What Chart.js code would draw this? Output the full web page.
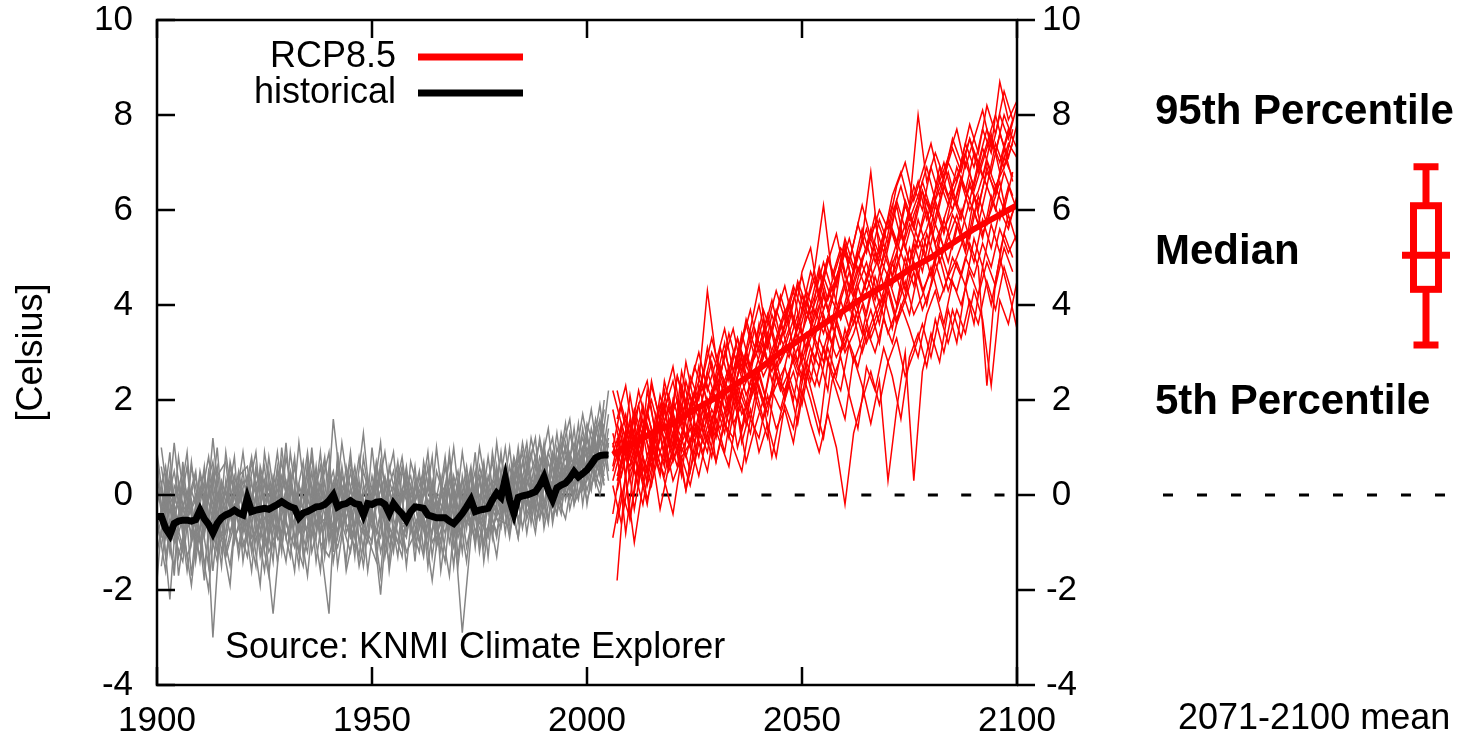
<!DOCTYPE html>
<html>
<head>
<meta charset="utf-8">
<script src="https://cdn.jsdelivr.net/npm/chart.js@4.4.1/dist/chart.umd.min.js"></script>
<style>
html, body { margin: 0; padding: 0; background: #fff; }
#wrap { width: 1457px; height: 739px; }
</style>
</head>
<body>
<div id="wrap"><canvas id="grafica" width="1457" height="739"></canvas></div>
<script>
// Media del ensemble histórico, un valor por año 1900-2005
const histMean = [
  -0.45, -0.45, -0.7, -0.84, -0.6, -0.55, -0.53, -0.53, -0.55, -0.52,
  -0.32, -0.5, -0.62, -0.8, -0.6, -0.48, -0.42, -0.38, -0.32, -0.38,
  -0.42, -0.07, -0.35, -0.32, -0.3, -0.28, -0.3, -0.25, -0.2, -0.14,
  -0.2, -0.25, -0.28, -0.48, -0.38, -0.35, -0.3, -0.25, -0.24, -0.2,
  -0.12, 0.0, -0.25, -0.2, -0.18, -0.12, -0.18, -0.2, -0.42, -0.18,
  -0.2, -0.15, -0.14, -0.2, -0.39, -0.18, -0.3, -0.4, -0.53, -0.35,
  -0.25, -0.26, -0.28, -0.42, -0.45, -0.48, -0.48, -0.48, -0.55, -0.6,
  -0.5, -0.39, -0.25, -0.1, -0.35, -0.32, -0.3, -0.28, -0.1, 0.04,
  -0.05, 0.35, -0.1, -0.39, -0.05, -0.02, 0.0, 0.03, 0.07, 0.2,
  0.38, 0.1, -0.1, 0.15, 0.21, 0.25, 0.35, 0.49, 0.38, 0.45,
  0.53, 0.65, 0.78, 0.83, 0.84, 0.84
];

// Media del ensemble RCP8.5
const rcpMeanYears = [2006, 2010, 2015, 2020, 2025, 2030, 2035, 2040, 2045, 2050,
  2055, 2060, 2065, 2070, 2075, 2080, 2085, 2090, 2095, 2100];
const rcpMean = [0.85, 1.05, 1.3, 1.5, 1.8, 2.05, 2.35, 2.65, 3.0, 3.3,
  3.6, 3.9, 4.2, 4.45, 4.75, 5.0, 5.3, 5.6, 5.85, 6.1];

// Miembros históricos, cada 2 años: pares 1900-2004
const histMembersEven = [
  [-0.2, 0.6, -0.9, -1.4, 0.1, -0.5, 0.3, -1.1, -0.8, 0.4,
   -0.3, -1.6, 0.2, -0.6, 0.5, -0.9, -0.2, 0.7, -1.2, -0.4,
   0.1, -0.8, 0.6, -0.3, -1.5, -0.1, 0.4, -0.7, -1.0, 0.3,
   -0.5, -1.3, 0.2, -0.6, 0.1, -0.9, -0.3, 0.5, -1.1, -0.2,
   0.4, -0.6, 0.8, -0.4, 0.2, 1.0, -0.5, 0.6, 0.1, 1.2,
   0.4, 1.6, 0.7],
  [-1.2, -0.3, 0.5, -0.7, -1.9, -0.2, 0.8, -0.6, -1.0, 0.2,
   -0.8, 0.3, -1.3, -0.4, 0.9, -0.6, -1.1, 0.1, -0.3, 0.6,
   -0.9, -0.2, -1.4, 0.4, -0.5, 0.2, -1.2, -0.4, 0.7, -0.8,
   -0.1, 0.5, -1.0, -0.6, -1.7, 0.3, -0.4, -0.9, 0.4, -0.3,
   -0.7, 0.6, -0.2, 0.9, -0.6, 0.3, -0.1, 1.1, -0.3, 0.5,
   1.3, 0.2, 1.0],
  [0.4, -0.8, -1.5, 0.2, -0.4, -1.0, -0.1, 0.6, -1.3, -0.6,
   0.3, -0.2, -0.9, 0.8, -0.5, -1.4, 0.1, -0.7, 0.5, -1.0,
   -2.5, 0.9, -0.6, -1.1, 0.2, -0.4, -2.1, 0.1, -0.5, -0.9,
   0.3, -0.7, -0.2, -1.2, 0.4, -0.5, 0.6, -0.8, -0.1, 0.7,
   -0.4, 0.1, -0.9, 0.5, 0.2, -0.3, 0.8, 0.0, 0.9, 0.3,
   0.6, 1.1, 0.2],
  [-0.7, 0.1, -0.4, -1.1, 0.7, -0.9, -2.0, 0.0, -0.5, -0.2,
   -1.1, -0.4, 0.4, -0.8, -0.1, 0.3, -0.9, -1.5, 0.2, -0.6,
   -0.4, 0.5, -0.8, -0.2, 1.3, -0.6, -0.9, 0.3, -0.3, -1.2,
   -0.8, 0.1, -0.5, 0.4, -1.0, -0.2, -1.4, 0.2, -0.6, 0.3,
   0.1, -0.9, 0.4, -0.2, 0.7, -0.5, 0.6, -0.1, 0.4, 0.9,
   0.1, 0.8, 1.5],
  [0.9, -0.5, -1.0, -0.3, -0.8, 0.4, -0.6, -1.4, 0.3, -0.9,
   -0.5, 0.7, -0.3, -1.2, -0.7, 0.1, -0.4, -0.2, 0.8, -1.0,
   -1.3, -0.5, 0.2, -0.9, -0.1, -0.7, 0.5, -1.6, -0.2, 0.1,
   -1.1, -0.3, -0.8, 0.0, -0.4, -1.5, 0.1, -0.5, 0.2, -0.7,
   -0.2, 0.3, -0.5, 0.1, -0.8, 0.6, 0.2, -0.4, 1.3, 0.5,
   -0.1, 0.5, 0.9],
  [-0.5, -1.6, 0.2, -0.2, -0.6, -1.3, 0.5, -0.4, 0.1, -0.7,
   0.5, -0.9, -0.6, 0.2, -1.4, -0.3, 0.6, -0.8, -0.5, 0.2,
   -0.6, -1.1, -0.3, 0.6, -0.7, 0.4, -0.5, -0.2, -1.3, 0.5,
   -0.2, -0.5, -1.8, -0.3, 0.3, -0.6, -0.2, -1.0, 0.5, -0.1,
   -0.5, 0.2, 0.6, -0.8, 0.4, -0.2, 0.9, 0.3, -0.1, 0.7,
   1.0, 0.4, 2.0],
  [0.8, -1.3, -0.2, 0.5, -1.7, 0.2, -0.7, 1.0, -1.2, -0.4,
   0.9, -0.6, -1.9, 0.5, -0.8, 1.1, -1.0, 0.3, -0.4, -1.6,
   0.6, -0.9, 0.1, -1.3, 0.8, -0.4, -1.7, 0.6, -0.2, 0.4,
   -1.4, 0.7, -0.3, -1.0, 0.9, -0.8, 0.4, -1.1, 0.6, -0.5,
   0.9, -0.8, 0.2, 1.1, -0.4, 0.8, -0.2, 1.3, 0.5, -0.1,
   1.2, 0.6, 1.8],
  [-1.8, 0.4, -0.6, -1.2, 0.6, -0.3, -1.5, 0.4, 0.7, -1.0,
   -0.2, 0.8, -0.7, -1.7, 0.3, -0.4, 0.8, -1.3, -0.6, 0.9,
   -1.0, 0.7, -0.5, 0.2, -1.2, 1.0, -0.6, -1.4, 0.5, -0.7,
   0.6, -1.2, 0.3, -0.5, 0.8, -1.3, 0.2, -0.4, -1.0, 0.9,
   -0.3, 1.0, -0.6, 0.4, 1.2, -0.7, 0.3, 0.9, 1.6, 0.0,
   0.3, 1.4, 0.6],
  [0.2, -0.9, 1.1, -0.6, -0.1, -1.4, 0.1, -0.8, -0.3, 0.8,
   -1.4, -0.1, 0.5, -1.0, 0.6, -0.5, -1.6, 0.4, -0.9, 0.1,
   0.9, -1.5, -0.2, 0.3, -0.6, -1.0, 0.7, -0.3, 0.2, -1.5,
   0.2, -0.4, 0.8, -1.6, -0.2, 0.5, -0.7, 0.9, -1.4, 0.0,
   0.8, -0.1, -0.9, 0.7, -0.2, 1.1, -0.6, 0.5, 0.2, 1.5,
   -0.2, 1.0, 0.4],
  [-0.9, -0.1, -1.7, 0.7, -1.0, 0.5, -0.4, -1.2, 0.9, -0.5,
   0.1, -1.2, 0.6, -0.2, -0.9, 0.8, -0.3, -1.0, 1.0, -0.8,
   -0.3, 0.3, -1.6, -0.7, 0.5, -0.2, 1.1, -1.1, -0.5, 0.6,
   -0.9, 0.4, -1.3, 0.1, -0.6, 0.3, -1.1, -0.2, 0.7, -0.9,
   0.5, -0.4, 1.0, -0.5, 0.1, 0.6, 1.2, -0.3, 0.8, 0.4,
   1.5, 0.9, 0.3]
];

// Miembros históricos, cada 2 años: impares 1901-2005
const histMembersOdd = [
  [0.1, -1.0, -0.4, 0.6, -1.2, -0.2, -0.8, 0.3, -0.3, -1.1,
   0.2, -0.4, -1.0, 0.4, -0.2, -0.9, 1.1, -0.5, -0.1, -0.7,
   0.3, -0.3, -0.9, -0.4, 0.4, -1.1, -0.2, 0.2, -0.6, -0.6,
   0.4, -0.2, -0.7, 0.6, -0.5, -2.9, -0.9, 0.3, -0.4, 0.5,
   -0.3, 0.8, 0.1, -0.4, 0.5, 1.4, -0.2, 0.6, 0.2, 1.0,
   0.5, 1.2, 0.8],
  [-0.9, 0.5, -1.3, -0.5, 0.0, -0.9, 1.2, -0.6, -1.5, 0.1,
   -0.7, -0.1, 0.6, -1.1, -0.4, 0.3, -0.6, -1.2, 0.4, -0.2,
   -0.8, 0.2, -0.1, -1.5, -0.6, 0.7, -0.4, -0.9, 0.1, -0.3,
   -1.0, 0.2, -0.3, -0.8, 0.1, -0.6, 0.4, -1.2, 0.0, -0.4,
   0.6, -0.3, 0.2, 0.9, -0.5, 0.1, 0.5, 1.0, -0.2, 0.3,
   0.9, 1.6, 0.3],
  [-0.3, -2.2, 0.3, -0.7, -0.4, 0.5, -3.0, -0.2, 0.6, -0.6,
   -1.3, 0.0, -0.5, -0.2, 0.7, -0.7, -0.3, 0.5, -1.4, -0.1,
   0.5, -0.6, -1.2, 0.1, -0.4, -0.1, 0.9, -0.5, -1.1, 0.2,
   -0.6, 0.6, -1.1, -0.4, -0.2, 0.3, -0.8, 0.0, -0.3, -1.3,
   0.2, -0.4, 0.7, 0.0, 0.3, -0.6, 1.0, 0.4, 0.7, 0.1,
   1.4, 0.6, 0.9],
  [0.6, -0.6, -0.1, -1.6, -0.3, 0.2, -0.5, -0.9, 0.4, -0.4,
   -0.2, -1.0, 0.3, -0.6, -1.1, 0.1, -0.4, 0.9, -0.6, 0.0,
   -1.0, 0.4, -0.3, 0.0, -0.9, -1.4, 0.3, -0.2, 0.6, -0.8,
   -0.4, -1.1, 0.5, -0.1, -0.7, 0.9, -0.4, -0.6, 0.8, -0.5,
   -0.6, 0.4, -0.1, 0.5, 1.1, -0.1, 0.3, 0.8, 0.0, 1.4,
   0.2, 0.7, 2.2],
  [-1.5, 0.0, -0.6, 0.1, -1.0, -0.4, 0.4, -1.2, -0.3, 0.3,
   -0.9, 0.6, -0.7, -2.5, -0.5, -1.3, 0.2, -0.3, -0.9, 0.7,
   -0.2, -0.7, 0.5, -0.6, -1.0, 0.3, -0.6, -1.1, 0.0, 0.4,
   -0.7, -0.1, -0.6, -1.4, 0.4, -0.3, 0.1, -0.5, -0.9, 0.2,
   -0.1, 0.5, -0.7, 0.3, -0.3, 0.7, 0.0, -0.5, 0.6, 1.2,
   0.6, 0.0, 1.1],
  [-0.4, 0.3, -0.8, -0.2, 0.5, -1.5, -0.3, 0.0, -0.8, -0.1,
   0.4, -0.5, -1.6, 0.1, -0.3, 0.5, -0.8, -0.4, 0.2, -1.1,
   1.6, 0.0, -0.4, 0.8, -0.3, -0.8, -0.1, 0.5, -0.7, -0.4,
   0.1, -0.6, -0.2, 0.2, -1.1, -0.4, -0.7, 0.6, -0.2, -0.8,
   0.3, -0.5, 0.4, -0.3, 0.8, 0.3, -0.4, 0.5, 1.1, 0.2,
   0.8, 1.9, 0.5],
  [-0.6, 0.9, -1.7, -0.3, 0.4, -0.8, -0.1, -1.5, 0.7, -0.2,
   -1.0, 0.5, -0.2, -1.4, 1.0, -0.6, 0.2, -0.9, 0.6, -1.3,
   0.2, -0.5, 0.9, -1.0, -0.4, 0.5, -1.3, -0.1, 0.8, -0.6,
   -1.2, 0.3, -0.5, 0.8, -0.9, -0.3, 0.6, -1.0, 0.4, -0.2,
   1.0, -0.5, 0.3, -0.1, 1.2, 0.2, -0.4, 1.1, 0.4, 0.9,
   0.1, 1.5, 1.0],
  [1.0, -0.4, 0.2, -1.3, -0.7, 0.6, -1.6, 0.2, -0.5, 0.5,
   -0.6, -1.5, 0.9, -0.3, -0.8, 0.4, -1.2, 0.1, -0.2, 0.8,
   -1.2, 0.6, -0.8, 0.3, -1.6, -0.2, 0.4, -0.7, -1.3, 0.7,
   0.0, -0.9, 1.0, -0.6, 0.2, -1.2, 0.5, -0.4, -0.8, 1.1,
   -0.4, 0.2, 0.9, -0.6, 0.6, 0.0, 1.3, -0.1, 0.6, 1.7,
   0.7, 0.2, 1.4],
  [-1.1, 0.2, -0.3, 0.9, -1.4, 0.0, 0.7, -0.9, -1.9, 0.4,
   0.6, -0.8, -0.3, 0.3, -1.2, 0.9, -0.5, -1.7, 0.2, -0.4,
   -0.7, 1.1, -0.2, -1.3, 0.3, -0.8, 0.1, 0.9, -1.0, -0.3,
   0.5, -1.5, 0.0, -0.4, 1.0, -0.7, -0.1, 0.4, -1.3, 0.6,
   -0.8, 0.7, -0.2, 1.2, 0.3, -0.5, 0.8, 0.1, 1.4, -0.2,
   1.1, 0.4, 1.7],
  [0.3, -1.2, 0.8, -0.5, -0.1, -1.8, 0.5, -0.4, 0.2, -1.3,
   0.0, 0.9, -1.1, -0.6, 0.4, -0.3, -1.5, 0.7, -0.7, 0.3,
   -1.4, -0.2, 0.7, -0.5, -0.9, 0.6, -0.3, -1.2, 0.5, 0.0,
   -0.3, 0.9, -1.0, 0.2, -1.5, 0.4, -0.6, 1.0, -0.1, -0.9,
   0.4, -0.2, 1.1, 0.0, -0.5, 0.9, 0.3, 1.5, -0.2, 0.8,
   1.8, 0.5, 1.2]
];

// Miembros RCP8.5, cada 2 años: pares 2006-2100
const rcpMembersEven = [
  [1.3, 0.6, 2.1, 1.0, 1.8, 0.9, 2.4, 1.6, 1.2, 2.5,
   2.0, 3.1, 2.2, 2.9, 3.5, 2.6, 3.3, 4.0, 3.1, 3.8,
   4.4, 3.6, 4.7, 5.2, 4.1, 4.9, 5.5, 4.6, 5.3, 6.1,
   5.4, 6.0, 5.6, 6.5, 7.0, 6.2, 6.8, 7.4, 6.6, 7.1,
   7.7, 6.9, 7.5, 8.1, 7.3, 8.7, 7.9, 8.3],
  [0.2, -0.6, 0.5, 0.9, -0.1, 0.6, 1.2, 0.3, 0.8, 1.1,
   0.4, 1.3, 0.7, 1.5, 1.0, 0.5, 1.6, 1.2, 2.1, 1.4,
   1.8, 1.1, 2.2, 1.5, 0.9, 1.7, 1.0, -0.2, 1.3, 2.0,
   2.6, 1.9, 2.8, 3.3, 2.5, 3.0, 3.6, 2.9, 3.8, 3.2,
   3.9, 3.4, 4.3, 3.7, 2.3, 4.1, 3.6, 4.5],
  [0.9, 1.4, 0.3, 1.1, 0.5, 1.7, 0.8, 1.3, 0.4, 1.9,
   1.2, 2.0, 0.7, 1.6, 2.4, 1.1, 1.8, 0.9, 1.5, 0.8,
   1.9, 1.4, 2.6, 2.0, 1.3, 2.8, 2.2, 1.6, 2.9, 2.3,
   1.5, 2.4, 0.3, 1.8, 3.0, 0.3, 2.6, 3.4, 2.8, 3.9,
   3.2, 4.4, 3.6, 4.8, 4.0, 5.0, 4.3, 3.5],
  [0.6, 1.5, 0.9, 0.2, 1.7, 1.1, 0.7, 2.0, 1.4, 1.0,
   2.3, 1.6, 2.5, 1.8, 2.1, 2.9, 2.2, 2.7, 3.4, 2.6,
   3.1, 3.7, 2.8, 3.5, 4.0, 3.3, 3.9, 4.5, 3.6, 4.2,
   4.8, 4.0, 4.6, 5.1, 4.3, 5.3, 4.7, 5.6, 4.9, 5.4,
   5.9, 5.2, 6.3, 5.5, 6.0, 6.6, 5.7, 6.2],
  [1.1, 0.4, 1.3, 1.9, 0.8, 1.5, 2.2, 1.0, 2.6, 1.8,
   2.4, 4.3, 2.9, 2.2, 3.0, 2.6, 3.5, 4.4, 3.2, 3.9,
   3.4, 4.1, 4.6, 3.8, 4.3, 5.0, 4.4, 5.2, 4.7, 5.4,
   6.8, 5.1, 5.8, 5.3, 6.2, 5.7, 6.6, 6.0, 6.9, 6.3,
   6.7, 7.2, 6.4, 7.0, 7.6, 6.8, 7.4, 7.1],
  [0.3, 1.0, 0.6, 1.4, 0.2, 0.9, 1.5, 0.7, 1.2, 0.5,
   1.6, 1.1, 1.9, 1.3, 2.4, 1.7, 2.0, 2.6, 1.9, 2.5,
   2.2, 2.9, 2.4, 3.1, 2.7, 3.4, 2.9, 3.3, 3.8, 3.0,
   3.6, 4.1, 3.4, 3.9, 4.5, 3.8, 4.2, 4.8, 4.1, 4.6,
   4.3, 5.0, 4.6, 5.3, 4.8, 5.6, 5.1, 5.5],
  [1.8, 0.9, 1.5, 0.4, 2.2, 1.3, 1.9, 0.8, 2.3, 1.6,
   2.7, 1.9, 2.4, 3.2, 2.0, 3.0, 2.5, 3.6, 2.8, 3.3,
   3.9, 3.1, 4.2, 3.6, 4.7, 3.9, 4.5, 5.3, 4.2, 4.9,
   5.6, 4.7, 5.3, 6.1, 5.2, 5.9, 6.4, 5.5, 6.2, 6.8,
   6.1, 7.0, 6.5, 7.3, 6.8, 7.6, 7.1, 7.8],
  [-0.4, 0.7, 1.6, 0.9, 0.3, 1.2, 0.6, 1.7, 0.9, 1.4,
   0.8, 1.7, 1.2, 2.2, 1.5, 1.9, 1.3, 2.3, 1.7, 2.8,
   2.1, 2.6, 1.9, 2.9, 2.3, 3.1, 2.5, 3.5, 2.8, 3.3,
   3.9, 3.2, 4.3, 3.6, 4.1, 4.7, 3.9, 4.4, 5.0, 4.3,
   4.9, 4.4, 5.4, 4.8, 5.7, 5.1, 5.9, 5.3],
  [1.0, 1.9, 1.2, 2.2, 1.4, 0.7, 1.8, 2.4, 1.5, 2.1,
   1.6, 2.6, 2.0, 3.0, 2.4, 3.4, 2.7, 3.1, 3.8, 3.0,
   3.6, 4.3, 3.4, 4.0, 4.8, 4.1, 4.6, 5.1, 4.4, 5.0,
   5.4, 4.9, 5.8, 5.2, 6.1, 5.6, 6.4, 5.9, 6.6, 6.1,
   6.9, 6.4, 7.2, 6.7, 7.5, 7.0, 7.7, 7.3],
  [0.5, 1.2, -0.5, 0.8, 1.5, 0.9, 0.4, 1.3, 1.9, 1.1,
   1.4, 0.9, 2.0, 1.5, 1.2, 2.2, 1.6, 2.5, 1.9, 2.3,
   2.7, 2.0, 3.0, 2.4, 3.3, 2.8, 3.6, 3.0, 3.4, 4.0,
   3.3, 3.8, 4.4, 3.7, 4.2, 4.9, 4.3, 4.7, 5.2, 4.6,
   5.0, 5.5, 4.9, 5.8, 5.2, 6.0, 5.6, 6.3],
  [-0.9, 0.1, -0.5, 0.6, -0.2, 1.0, 0.3, -0.4, 0.8, 0.2,
   1.1, 0.5, 1.6, 0.9, 2.0, 1.4, 2.4, 1.8, 1.2, 2.6,
   2.0, 3.0, 2.5, 3.5, 2.9, 2.2, 3.7, 3.1, 4.0, 3.4,
   4.3, 3.6, 4.6, 4.0, 5.0, 4.4, 5.3, 4.6, 5.5, 4.9,
   5.7, 5.1, 6.0, 5.4, 6.3, 5.8, 6.5, 6.0],
  [2.2, 1.5, 0.8, 1.9, 2.4, 1.2, 2.0, 2.7, 1.6, 2.3,
   3.0, 2.2, 2.8, 3.5, 2.6, 3.2, 3.9, 3.0, 3.6, 4.3,
   3.7, 4.4, 3.9, 4.7, 4.2, 5.0, 4.5, 5.4, 4.8, 5.6,
   5.0, 5.8, 5.3, 6.2, 5.6, 6.5, 6.0, 6.9, 6.3, 7.0,
   6.6, 7.4, 6.9, 7.7, 7.2, 8.0, 7.5, 8.2]
];

// Miembros RCP8.5, cada 2 años: impares 2007-2099
const rcpMembersOdd = [
  [-1.8, 0.5, 1.2, 0.3, 1.0, 1.6, 0.6, 1.3, 2.0, 1.1,
   1.8, 1.2, 2.4, 1.7, 2.8, 2.1, 2.6, 3.2, 2.4, 3.0,
   3.5, 2.8, 3.9, 3.3, 4.2, 3.6, 4.8, 3.9, 4.4, 4.9,
   4.2, 5.1, 4.6, 5.5, 4.9, 5.8, 5.2, 6.1, 5.5, 6.3,
   5.8, 6.6, 6.0, 6.9, 6.3, 7.3, 6.6],
  [1.5, 0.9, 1.8, 1.2, 2.3, 1.6, 1.1, 2.5, 1.9, 2.7,
   2.2, 3.0, 2.5, 3.4, 2.7, 3.7, 3.1, 3.9, 3.4, 4.2,
   3.6, 4.5, 4.0, 4.8, 6.1, 4.6, 5.2, 4.9, 5.7, 5.1,
   5.9, 5.4, 6.3, 6.8, 6.1, 8.0, 6.6, 7.2, 6.7, 7.5,
   7.0, 7.8, 7.2, 8.2, 7.6, 8.5, 7.9],
  [0.4, 1.1, -0.3, 0.8, 0.2, 1.3, 0.5, 1.0, 0.1, 1.4,
   0.9, 1.6, 1.1, 0.6, 1.8, 0.7, 1.4, 2.0, 0.8, 1.7,
   2.3, 1.5, 2.6, 1.9, 1.2, 2.4, 2.9, 2.1, 1.4, 2.7,
   2.2, 3.1, 2.5, 1.6, 2.9, 3.4, 2.7, 3.7, 3.0, 3.9,
   3.3, 4.1, 3.6, 4.5, 3.9, 4.8, 4.2],
  [0.7, 1.3, 0.9, 1.6, 0.6, 1.2, 1.9, 1.0, 1.6, 2.1,
   1.5, 2.2, 1.8, 2.6, 2.0, 2.9, 2.3, 3.0, 2.6, 3.3,
   2.9, 3.6, 3.1, 3.9, 3.4, 4.1, 3.7, 4.4, 3.9, 4.6,
   4.1, 4.8, 4.4, 5.1, 4.6, 5.4, 4.9, 5.7, 5.2, 5.9,
   5.5, 6.2, 5.7, 6.5, 6.0, 6.8, 6.3],
  [1.0, 1.7, 0.8, 1.4, 2.0, 1.3, 1.8, 1.2, 2.4, 1.7,
   2.6, 2.0, 3.1, 2.4, 3.3, 2.7, 3.5, 2.9, 3.8, 3.2,
   4.0, 3.5, 4.3, 3.8, 4.6, 4.1, 4.9, 4.4, 5.1, 4.6,
   5.3, 4.8, 5.6, 5.1, 5.9, 5.4, 6.2, 5.7, 6.5, 6.0,
   6.7, 6.2, 7.0, 6.5, 7.4, 6.9, 7.7],
  [0.1, 0.8, 1.4, 0.5, 1.1, 0.4, 1.6, 0.9, 1.3, 0.7,
   1.9, 1.3, 2.1, 1.5, 2.3, 1.8, 2.5, 1.9, 2.8, 2.2,
   2.6, 3.1, 2.4, 3.3, 2.8, 3.6, 3.0, 3.4, 3.9, 3.2,
   3.7, 4.2, 3.5, 4.4, 3.8, 4.7, 4.0, 4.9, 4.3, 5.0,
   4.6, 5.3, 4.8, 2.3, 4.5, 5.5, 5.0],
  [0.9, -0.8, 0.6, 1.4, 0.8, 1.9, 1.2, 0.6, 1.6, 2.2,
   1.3, 2.0, 2.7, 1.9, 2.5, 3.0, 2.2, 2.9, 3.5, 2.8,
   3.2, 3.8, 3.0, 3.6, 4.3, 3.5, 4.1, 4.7, 4.0, 4.5,
   5.1, 4.4, 5.0, 5.6, 4.9, 5.4, 6.0, 5.3, 5.8, 6.4,
   5.9, 6.5, 6.1, 6.8, 6.4, 7.1, 6.7],
  [2.2, 1.4, 0.7, 1.8, 1.1, 0.5, 1.5, 2.0, 1.2, 1.8,
   2.3, 1.6, 2.1, 2.7, 1.9, 2.4, 3.1, 2.5, 2.9, 3.6,
   3.0, 3.5, 4.1, 3.4, 3.9, 4.4, 3.7, 4.2, 4.8, 4.3,
   4.8, 5.3, 4.6, 5.1, 5.7, 5.2, 5.6, 6.2, 5.6, 6.0,
   6.6, 6.0, 6.4, 7.0, 6.5, 6.9, 7.4],
  [0.3, 1.0, 0.5, -0.2, 0.9, 1.5, 0.7, 1.2, 0.8, 1.5,
   1.1, 1.8, 1.4, 2.1, 1.0, 1.7, 2.3, 1.6, 2.2, 1.8,
   2.5, 1.9, 2.8, 2.3, 3.1, 2.6, 2.2, 3.2, 2.7, 3.5,
   3.0, 3.7, 3.2, 4.0, 3.5, 2.9, 3.8, 4.3, 3.6, 4.5,
   4.0, 4.7, 4.2, 4.9, 4.4, 5.2, 4.7],
  [1.2, 0.4, 1.7, 1.0, 2.4, 1.5, 2.1, 1.4, 2.8, 1.9,
   2.5, 3.3, 2.6, 2.2, 3.0, 3.6, 2.9, 3.4, 4.1, 3.3,
   3.8, 4.4, 3.7, 4.2, 4.9, 4.3, 4.8, 5.4, 4.7, 5.2,
   5.7, 5.1, 5.9, 6.5, 5.8, 6.3, 6.9, 6.2, 6.7, 7.3,
   6.8, 7.5, 7.0, 7.7, 7.2, 8.0, 7.5],
  [-0.6, 0.4, -1.0, 0.2, 0.9, -0.3, 0.6, 1.2, 0.1, 0.9,
   1.5, 0.8, 1.9, 1.2, 2.2, 1.5, 2.6, 1.9, 2.9, 2.3,
   3.1, 2.5, 3.4, 2.8, 3.8, 3.2, 4.1, 3.5, 4.4, 3.8,
   4.6, 4.0, 4.9, 4.3, 5.2, 4.6, 5.5, 4.9, 5.8, 5.2,
   6.0, 5.4, 6.3, 5.7, 6.5, 6.0, 6.8],
  [1.6, 2.3, 1.1, 1.9, 0.9, 2.1, 1.4, 2.5, 1.8, 1.3,
   2.1, 2.8, 1.9, 2.6, 3.3, 2.4, 3.0, 3.7, 2.8, 3.5,
   4.1, 3.3, 4.0, 4.6, 3.9, 4.5, 5.1, 4.3, 5.0, 5.6,
   4.9, 5.5, 6.1, 5.4, 6.0, 6.6, 5.8, 6.4, 7.0, 6.3,
   6.9, 7.5, 6.8, 7.4, 8.0, 7.3, 7.9]
];

// Percentiles 5, 25, 50, 75, 95 de la media 2071-2100
const boxStats = [3.16, 4.33, 5.05, 6.09, 6.91];

const legendLabels = ['RCP8.5', 'historical'];
const panelLabels = ['95th Percentile', 'Median', '5th Percentile'];

const FUENTE = "'Liberation Sans', Arial, Helvetica, sans-serif";
const GRIS = '#858585';
const ROJO = '#ff0000';
const ANCHO_MIEMBRO = 1.5;

// Convierte una lista de valores en puntos {x, y}
function aPuntos(valores, inicio, paso) {
  return valores.map((v, i) => ({ x: inicio + i * paso, y: v }));
}

const datasets = [];
datasets.push({ label: 'historical', data: aPuntos(histMean, 1900, 1), borderColor: '#000', borderWidth: 7, order: 0 });
datasets.push({ label: 'RCP8.5', data: rcpMeanYears.map((a, i) => ({ x: a, y: rcpMean[i] })), borderColor: ROJO, borderWidth: 6, order: 1 });
rcpMembersEven.forEach(m => datasets.push({ data: aPuntos(m, 2006, 2), borderColor: ROJO, borderWidth: ANCHO_MIEMBRO, order: 2 }));
rcpMembersOdd.forEach(m => datasets.push({ data: aPuntos(m, 2007, 2), borderColor: ROJO, borderWidth: ANCHO_MIEMBRO, order: 2 }));
histMembersEven.forEach(m => datasets.push({ data: aPuntos(m, 1900, 2), borderColor: GRIS, borderWidth: ANCHO_MIEMBRO, order: 3 }));
histMembersOdd.forEach(m => datasets.push({ data: aPuntos(m, 1901, 2), borderColor: GRIS, borderWidth: ANCHO_MIEMBRO, order: 3 }));
datasets.forEach(d => { d.pointRadius = 0; d.tension = 0; d.fill = false; d.clip = 0; });

// Marco, marcas, leyenda y panel derecho
const marcoPlugin = {
  id: 'marco',
  beforeDatasetsDraw(chart) {
    const { ctx, chartArea: a, scales: { y } } = chart;
    const y0 = y.getPixelForValue(0);
    ctx.save();
    ctx.strokeStyle = '#000';
    ctx.lineWidth = 3;
    ctx.setLineDash([10, 23.3]);
    ctx.lineDashOffset = -5;
    ctx.beginPath();
    ctx.moveTo(a.left, y0);
    ctx.lineTo(a.right, y0);
    ctx.stroke();
    ctx.restore();
  },
  afterDatasetsDraw(chart) {
    const { ctx, chartArea: a, scales: { x, y } } = chart;
    ctx.save();
    ctx.strokeStyle = '#000';
    ctx.lineWidth = 2.5;
    ctx.strokeRect(a.left, a.top, a.right - a.left, a.bottom - a.top);
    ctx.beginPath();
    y.ticks.forEach(t => {
      const py = y.getPixelForValue(t.value);
      ctx.moveTo(a.left, py); ctx.lineTo(a.left + 18, py);
      ctx.moveTo(a.right, py); ctx.lineTo(a.right + 18, py);
    });
    x.ticks.forEach(t => {
      const px = x.getPixelForValue(t.value);
      ctx.moveTo(px, a.bottom); ctx.lineTo(px, a.bottom - 18);
      ctx.moveTo(px, a.top); ctx.lineTo(px, a.top + 18);
    });
    ctx.stroke();

    // Leyenda
    ctx.font = '36px ' + FUENTE;
    ctx.fillStyle = '#000';
    ctx.textAlign = 'right';
    ctx.textBaseline = 'middle';
    const colores = [ROJO, '#000'];
    legendLabels.forEach((txt, i) => {
      const py = 57 + i * 36;
      ctx.fillText(txt, 396, py);
      ctx.strokeStyle = colores[i];
      ctx.lineWidth = 7;
      ctx.beginPath();
      ctx.moveTo(418, py);
      ctx.lineTo(523, py);
      ctx.stroke();
    });

    ctx.textAlign = 'left';
    ctx.fillStyle = '#000';
    ctx.fillText('Source: KNMI Climate Explorer', 225, 648);
    ctx.restore();
  },
  afterDraw(chart) {
    const { ctx, scales: { y } } = chart;
    ctx.save();
    ctx.fillStyle = '#000';
    ctx.textBaseline = 'middle';
    ctx.textAlign = 'left';
    ctx.font = 'bold 42px ' + FUENTE;
    const filas = [112, 252, 402];
    panelLabels.forEach((txt, i) => ctx.fillText(txt, 1155, filas[i]));

    ctx.font = '36px ' + FUENTE;
    ctx.fillText('2071-2100 mean', 1178, 719);

    // Línea discontinua en cero
    const y0 = y.getPixelForValue(0);
    ctx.strokeStyle = '#000';
    ctx.lineWidth = 3;
    ctx.setLineDash([10, 24]);
    ctx.beginPath();
    ctx.moveTo(1163, y0);
    ctx.lineTo(1446, y0);
    ctx.stroke();
    ctx.setLineDash([]);

    // Caja y bigotes
    const cx = 1426;
    const [p5, p25, p50, p75, p95] = boxStats.map(v => y.getPixelForValue(v));
    ctx.strokeStyle = ROJO;
    ctx.lineWidth = 7;
    ctx.beginPath();
    ctx.moveTo(cx, p95); ctx.lineTo(cx, p75);
    ctx.moveTo(cx, p25); ctx.lineTo(cx, p5);
    ctx.moveTo(cx - 12.5, p95); ctx.lineTo(cx + 12.5, p95);
    ctx.moveTo(cx - 12.5, p5); ctx.lineTo(cx + 12.5, p5);
    ctx.moveTo(cx - 24, p50); ctx.lineTo(cx + 24, p50);
    ctx.stroke();
    ctx.strokeRect(cx - 12.5, p75, 25, p25 - p75);
    ctx.restore();
  }
};

const ticksFont = { family: FUENTE, size: 35 };

// Quita el margen extra que Chart.js reserva para las etiquetas de los extremos
function sinRelleno(s) {
  s.paddingTop = 0;
  s.paddingBottom = 0;
}

new Chart(document.getElementById('grafica').getContext('2d'), {
  type: 'line',
  data: { datasets: datasets },
  options: {
    responsive: false,
    animation: false,
    devicePixelRatio: 1,
    events: [],
    layout: { padding: { top: 20, right: 360, bottom: 0, left: 0 } },
    plugins: { legend: { display: false }, tooltip: { enabled: false } },
    scales: {
      x: {
        type: 'linear',
        min: 1900,
        max: 2100,
        grid: { display: false, drawTicks: false },
        border: { display: false },
        ticks: { stepSize: 50, autoSkip: false, maxRotation: 0, color: '#000', font: ticksFont, padding: 15,
          callback: v => String(v) },
        afterFit(s) { s.height = 54; s.paddingLeft = 0; s.paddingRight = 0; }
      },
      y: {
        position: 'left',
        min: -4,
        max: 10,
        grid: { display: false, drawTicks: false },
        border: { display: false },
        ticks: { stepSize: 2, color: '#000', font: ticksFont, padding: 24 },
        title: { display: true, text: '[Celsius]', color: '#000', font: { family: FUENTE, size: 36 }, padding: { top: 10, bottom: 0 } },
        afterFit(s) { s.width = 157; sinRelleno(s); }
      },
      y2: {
        position: 'right',
        min: -4,
        max: 10,
        grid: { display: false, drawTicks: false },
        border: { display: false },
        ticks: { stepSize: 2, color: '#000', font: ticksFont, padding: 25, crossAlign: 'center' },
        afterFit(s) { s.width = 80; sinRelleno(s); }
      }
    }
  },
  plugins: [marcoPlugin]
});
</script>
</body>
</html>
